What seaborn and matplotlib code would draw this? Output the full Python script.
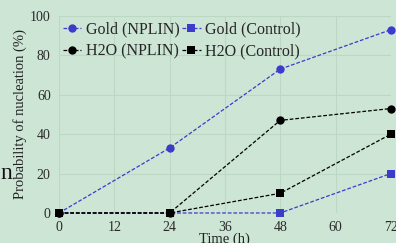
import numpy as np
import pandas as pd
import matplotlib
matplotlib.use('Agg')
import matplotlib.pyplot as plt
import seaborn as sns

# dados
tempo = [0, 24, 48, 72]
gold_nplin = [0, 33, 73, 93]
gold_control = [0, 0, 0, 20]
h2o_nplin = [0, 0, 47, 53]
h2o_control = [0, 0, 10, 40]

series = {
    'Gold (NPLIN)': gold_nplin,
    'Gold (Control)': gold_control,
    'H2O (NPLIN)': h2o_nplin,
    'H2O (Control)': h2o_control,
}
df = pd.concat([pd.DataFrame({'tempo': tempo, 'prob': v, 'serie': k}) for k, v in series.items()])

bg = '#cde5d5'
sns.set_theme(style='whitegrid')
plt.rcParams['font.family'] = ['Liberation Serif', 'DejaVu Serif']

fig = plt.figure(figsize=(3.96, 2.43), dpi=100, facecolor=bg)
ax = fig.add_axes([0.149, 0.1235, 0.838, 0.811])
ax.set_facecolor(bg)

cores = {'Gold (NPLIN)': '#3b3bcc', 'Gold (Control)': '#3b3bcc',
         'H2O (NPLIN)': '#000000', 'H2O (Control)': '#000000'}
marcadores = {'Gold (NPLIN)': 'o', 'Gold (Control)': 's',
              'H2O (NPLIN)': 'o', 'H2O (Control)': 's'}

for nome in series:
    d = df[df['serie'] == nome]
    sns.lineplot(data=d, x='tempo', y='prob', ax=ax, color=cores[nome], marker=marcadores[nome],
                 markersize=6, markeredgewidth=0, linestyle=(0, (3, 1.5)), linewidth=0.9,
                 label=nome, clip_on=False, zorder=3)

ax.set_xlim(0, 72)
ax.set_ylim(0, 100)
ax.set_xticks([0, 12, 24, 36, 48, 60, 72])
ax.set_yticks([0, 20, 40, 60, 80, 100])
ax.grid(True, color='#bcd8c5', linewidth=0.8)
for s in ax.spines.values():
    s.set_visible(False)
ax.tick_params(axis='both', labelsize=10, colors='#2a2a2a', length=0, pad=6)
ax.set_xlabel('Time (h)', fontsize=10.5, color='#222222', labelpad=-1)
ax.set_ylabel('Probability of nucleation (%)', fontsize=10.5, color='#222222', labelpad=2)

# ordem da legenda: linha 1 Gold, linha 2 H2O
h, l = ax.get_legend_handles_labels()
ordem = [0, 2, 1, 3]
leg = ax.legend([h[i] for i in ordem], [l[i] for i in ordem], ncol=2, loc='upper left',
                bbox_to_anchor=(0.0, 0.99), borderaxespad=0.0, borderpad=0.25, frameon=False,
                fontsize=11.5, handlelength=1.15, handletextpad=0.3, columnspacing=0.15,
                labelspacing=0.35)

# fragmentos de texto do slide
fig.text(0.002, 0.285, 'n', fontsize=17, color='#111111', va='center')

fig.savefig('out.png', dpi=100, facecolor=bg)
